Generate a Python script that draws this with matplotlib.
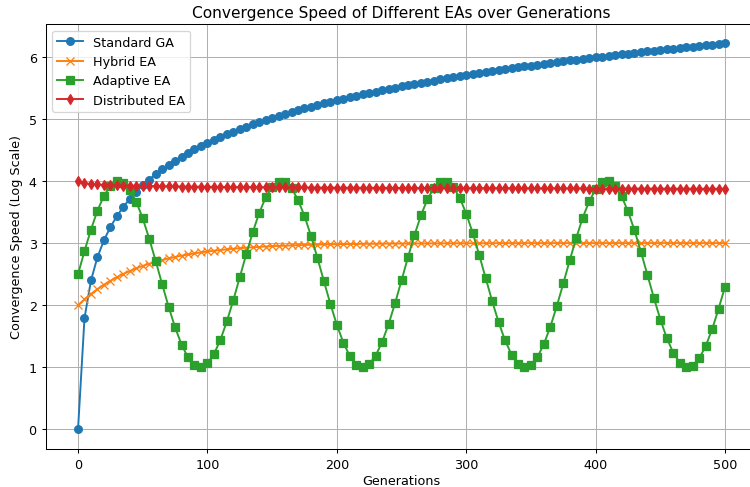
import matplotlib
matplotlib.use("Agg")
import matplotlib.pyplot as plt

generations = [0, 5, 10, 15, 20, 25, 30, 35, 40, 45, 50, 55, 60, 65, 70, 75, 80, 85, 90, 95,
               100, 105, 110, 115, 120, 125, 130, 135, 140, 145, 150, 155, 160, 165, 170, 175, 180, 185, 190, 195,
               200, 205, 210, 215, 220, 225, 230, 235, 240, 245, 250, 255, 260, 265, 270, 275, 280, 285, 290, 295,
               300, 305, 310, 315, 320, 325, 330, 335, 340, 345, 350, 355, 360, 365, 370, 375, 380, 385, 390, 395,
               400, 405, 410, 415, 420, 425, 430, 435, 440, 445, 450, 455, 460, 465, 470, 475, 480, 485, 490, 495, 500]

standard_ga = [0.000, 1.792, 2.398, 2.773, 3.045, 3.258, 3.434, 3.584, 3.714, 3.829,
               3.932, 4.025, 4.111, 4.190, 4.263, 4.331, 4.394, 4.454, 4.511, 4.564,
               4.615, 4.663, 4.710, 4.754, 4.796, 4.836, 4.875, 4.913, 4.949, 4.984,
               5.017, 5.050, 5.081, 5.112, 5.142, 5.170, 5.198, 5.226, 5.252, 5.278,
               5.303, 5.328, 5.352, 5.375, 5.398, 5.420, 5.442, 5.464, 5.485, 5.505,
               5.525, 5.545, 5.565, 5.583, 5.602, 5.620, 5.638, 5.656, 5.673, 5.690,
               5.707, 5.724, 5.740, 5.756, 5.771, 5.787, 5.802, 5.817, 5.832, 5.846,
               5.861, 5.875, 5.889, 5.903, 5.916, 5.930, 5.943, 5.956, 5.969, 5.981,
               5.994, 6.006, 6.019, 6.031, 6.043, 6.054, 6.066, 6.078, 6.089, 6.100,
               6.111, 6.122, 6.133, 6.144, 6.155, 6.165, 6.176, 6.186, 6.196, 6.207, 6.217]

hybrid_ea = [2.000, 2.095, 2.181, 2.259, 2.330, 2.393, 2.451, 2.503, 2.551, 2.593,
             2.632, 2.667, 2.699, 2.727, 2.753, 2.777, 2.798, 2.817, 2.835, 2.850,
             2.865, 2.878, 2.889, 2.900, 2.909, 2.918, 2.926, 2.933, 2.939, 2.945,
             2.950, 2.955, 2.959, 2.963, 2.967, 2.970, 2.973, 2.975, 2.978, 2.980,
             2.982, 2.983, 2.985, 2.986, 2.988, 2.989, 2.990, 2.991, 2.992, 2.993,
             2.993, 2.994, 2.994, 2.995, 2.996, 2.996, 2.996, 2.997, 2.997, 2.997,
             2.998, 2.998, 2.998, 2.998, 2.998, 2.999, 2.999, 2.999, 2.999, 2.999,
             2.999, 2.999, 2.999, 2.999, 3.000, 3.000, 3.000, 3.000, 3.000, 3.000,
             3.000, 3.000, 3.000, 3.000, 3.000, 3.000, 3.000, 3.000, 3.000, 3.000,
             3.000, 3.000, 3.000, 3.000, 3.000, 3.000, 3.000, 3.000, 3.000, 3.000, 3.000]

adaptive_ea = [2.500, 2.871, 3.219, 3.523, 3.762, 3.924, 3.996, 3.976, 3.864, 3.667,
               3.398, 3.073, 2.712, 2.338, 1.974, 1.642, 1.365, 1.157, 1.033, 1.001,
               1.062, 1.211, 1.441, 1.738, 2.081, 2.450, 2.823, 3.175, 3.486, 3.736,
               3.907, 3.991, 3.984, 3.885, 3.697, 3.437, 3.118, 2.761, 2.387, 2.020,
               1.684, 1.398, 1.180, 1.044, 1.000, 1.049, 1.188, 1.408, 1.695, 2.032,
               2.401, 2.774, 3.130, 3.448, 3.706, 3.889, 3.986, 3.990, 3.902, 3.727,
               3.475, 3.162, 2.810, 2.437, 2.068, 1.725, 1.432, 1.204, 1.058, 1.001,
               1.037, 1.163, 1.373, 1.654, 1.986, 2.351, 2.725, 3.085, 3.408, 3.675,
               3.869, 3.978, 3.995, 3.919, 3.755, 3.513, 3.206, 2.858, 2.487, 2.116,
               1.768, 1.468, 1.231, 1.072, 1.003, 1.027, 1.142, 1.340, 1.612, 1.943, 2.301]

distributed_ea = [4.000, 3.964, 3.952, 3.945, 3.939, 3.935, 3.931, 3.928, 3.926, 3.923,
                  3.921, 3.920, 3.918, 3.916, 3.915, 3.913, 3.912, 3.911, 3.910, 3.909,
                  3.908, 3.907, 3.906, 3.905, 3.904, 3.903, 3.902, 3.902, 3.901, 3.900,
                  3.900, 3.899, 3.898, 3.898, 3.897, 3.897, 3.896, 3.895, 3.895, 3.894,
                  3.894, 3.893, 3.893, 3.892, 3.892, 3.892, 3.891, 3.891, 3.890, 3.890,
                  3.889, 3.889, 3.889, 3.888, 3.888, 3.888, 3.887, 3.887, 3.887, 3.886,
                  3.886, 3.886, 3.885, 3.885, 3.885, 3.884, 3.884, 3.884, 3.883, 3.883,
                  3.883, 3.882, 3.882, 3.882, 3.882, 3.881, 3.881, 3.881, 3.881, 3.880,
                  3.880, 3.880, 3.880, 3.879, 3.879, 3.879, 3.879, 3.878, 3.878, 3.878,
                  3.878, 3.878, 3.877, 3.877, 3.877, 3.877, 3.876, 3.876, 3.876, 3.876, 3.876]

series_names = ["Standard GA", "Hybrid EA", "Adaptive EA", "Distributed EA"]

DPI = 92
fig = plt.figure(figsize=(750 / DPI, 488 / DPI), dpi=DPI)
ax = fig.add_axes([0.0609, 0.0787, 0.949, 0.8697])
ax.plot(generations, standard_ga, marker="o", label=series_names[0])
ax.plot(generations, hybrid_ea, marker="x", label=series_names[1])
ax.plot(generations, adaptive_ea, marker="s", label=series_names[2])
ax.plot(generations, distributed_ea, marker="d", label=series_names[3])
ax.set_title("Convergence Speed of Different EAs over Generations")
ax.set_xlabel("Generations", labelpad=2.5)
ax.set_ylabel("Convergence Speed (Log Scale)")
ax.legend(loc="upper left")
ax.grid(True)
fig.savefig("out.png", dpi=DPI)
